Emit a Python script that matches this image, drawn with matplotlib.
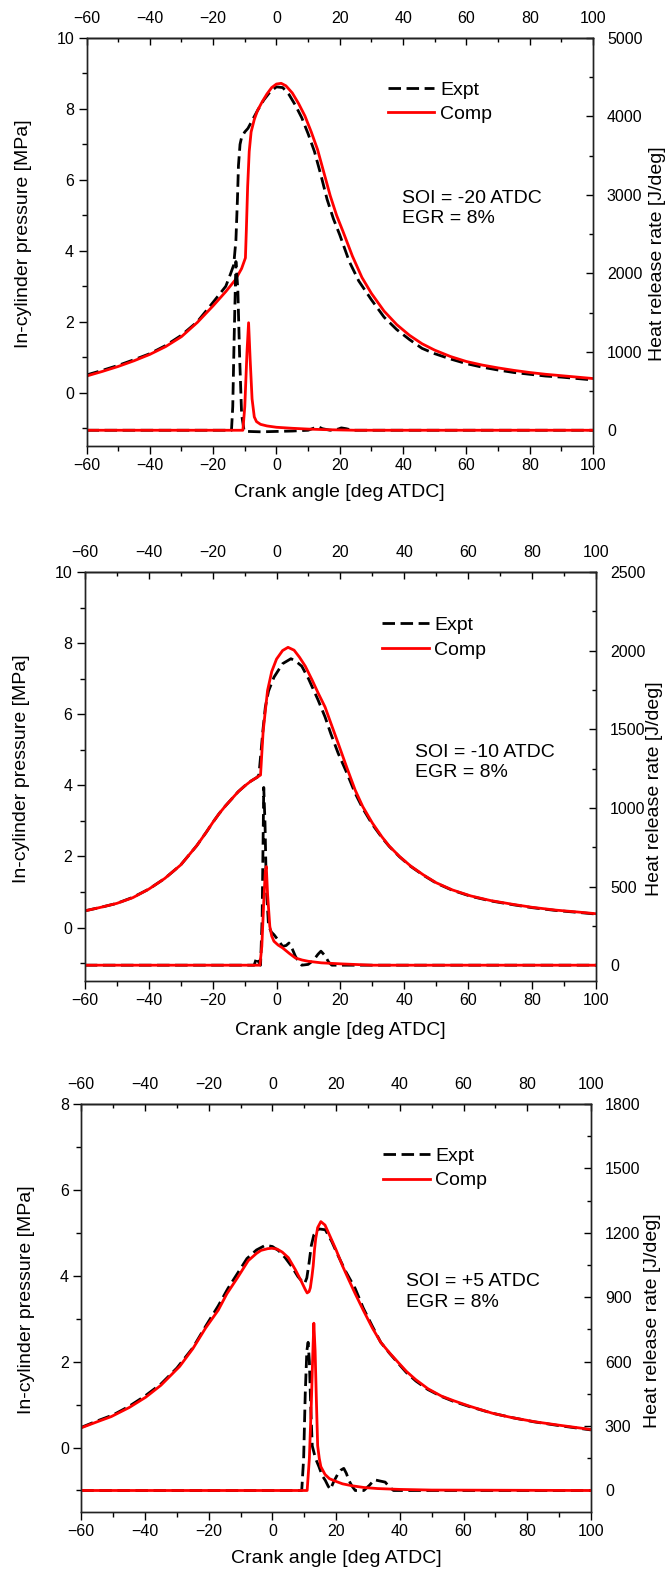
import matplotlib
matplotlib.use("Agg")
import matplotlib.pyplot as plt
from matplotlib.ticker import MultipleLocator

plt.rcParams['font.family'] = ['Liberation Sans', 'DejaVu Sans']

# ---------------- SOI = -20 ATDC ----------------
p1_comp_ang = [-60, -55, -50, -45, -40, -35, -30, -25, -20, -16, -13, -11, -9.8, -9.5, -9.1, -8.6,
               -8.0, -7.0, -6.0, -4.5, -3, -1.5, 0, 1.5, 3, 5, 7, 9, 11, 13, 15, 17, 19, 21, 24, 27,
               30, 34, 38, 42, 46, 50, 55, 60, 65, 70, 75, 80, 85, 90, 95, 100]
p1_comp_p = [0.47, 0.60, 0.74, 0.90, 1.08, 1.30, 1.58, 1.98, 2.45, 2.85, 3.18, 3.50, 3.80, 4.6, 5.8, 6.8,
             7.35, 7.7, 7.95, 8.2, 8.42, 8.6, 8.7, 8.72, 8.65, 8.45, 8.15, 7.8, 7.35, 6.85, 6.2, 5.55,
             5.0, 4.55, 3.85, 3.25, 2.8, 2.3, 1.92, 1.62, 1.38, 1.2, 1.02, 0.88, 0.78, 0.70, 0.63,
             0.57, 0.52, 0.48, 0.44, 0.40]
p1_expt_ang = [-60, -55, -50, -45, -40, -35, -30, -25, -20, -16, -14.5, -13.5, -12.8, -12.3, -12, -11.5,
               -11, -10, -9, -7.5, -6, -4, -2, 0, 2, 4, 6, 8, 10, 12, 14, 16, 18, 20, 23, 26, 30, 34,
               38, 42, 46, 50, 55, 60, 65, 70, 75, 80, 85, 90, 95, 100]
p1_expt_p = [0.5, 0.63, 0.77, 0.93, 1.1, 1.33, 1.62, 2.0, 2.55, 3.0, 3.35, 3.6, 4.3, 5.5, 6.4, 7.0,
             7.2, 7.35, 7.45, 7.7, 7.95, 8.25, 8.48, 8.62, 8.6, 8.4, 8.1, 7.75, 7.3, 6.8, 6.15, 5.45,
             4.9, 4.45, 3.7, 3.15, 2.62, 2.13, 1.78, 1.5, 1.25, 1.1, 0.95, 0.82, 0.72, 0.64, 0.57,
             0.52, 0.47, 0.44, 0.40, 0.36]
p1_expt_hrr_ang = [-60, -14.2, -13.8, -13.4, -12.8, -12.2, -11.6, -11.0, -10.2, -9, -5, 0, 5, 10, 12,
                   13.2, 14.5, 17, 19.5, 20.5, 22, 24, 100]
p1_expt_hrr = [0, 0, 300, 1100, 2150, 1800, 900, 200, -10, -15, -20, -15, -10, 0, 30,
               45, 20, 0, 15, 30, 20, 0, 0]
p1_comp_hrr_ang = [-60, -10.6, -10.0, -9.3, -8.8, -8.3, -7.7, -7.0, -6.3, -5, -3, 0, 5, 10, 15, 25, 100]
p1_comp_hrr = [0, 0, 300, 1000, 1370, 900, 400, 170, 110, 75, 55, 38, 25, 15, 8, 0, 0]

# ---------------- SOI = -10 ATDC ----------------
p2_comp_ang = [-60, -55, -50, -45, -40, -35, -30, -25, -22, -20, -18, -16, -14, -12, -10, -8, -6, -5,
               -4.6, -4.2, -3.5, -2.8, -1.5, 0, 1.9, 3.6, 5.5, 7.2, 9, 11.2, 13, 15.2, 17, 19.3, 22,
               24.6, 27, 30, 33, 35.3, 38.5, 42, 46, 50, 55, 60.8, 67, 74.2, 80, 87.5, 94, 100]
p2_comp_p = [0.47, 0.57, 0.68, 0.84, 1.08, 1.38, 1.76, 2.3, 2.68, 2.95, 3.2, 3.42, 3.62, 3.82, 3.98,
             4.12, 4.23, 4.29, 4.9, 5.5, 6.1, 6.67, 7.2, 7.55, 7.79, 7.88, 7.8, 7.6, 7.35, 6.95, 6.6,
             6.2, 5.75, 5.18, 4.5, 3.87, 3.4, 2.94, 2.55, 2.29, 2.0, 1.73, 1.48, 1.26, 1.06, 0.89,
             0.76, 0.65, 0.57, 0.49, 0.44, 0.39]
p2_expt_ang = [-60, -55, -50, -45, -40, -35, -30, -25, -22, -20, -18, -16, -14, -12, -10, -8, -6, -5.5,
               -4.8, -4.2, -3.5, -2.5, -0.8, 1.9, 4.5, 5.9, 7.9, 10, 11.2, 13, 15.2, 17, 19.3, 22,
               24.6, 27, 30, 33, 35.3, 38.5, 42, 46, 50, 55, 60.8, 67, 74.2, 80, 87.5, 94, 100]
p2_expt_p = [0.47, 0.57, 0.68, 0.85, 1.08, 1.38, 1.76, 2.3, 2.68, 2.95, 3.2, 3.42, 3.62, 3.82, 3.98,
             4.12, 4.23, 4.3, 5.0, 5.6, 6.2, 6.65, 7.04, 7.42, 7.56, 7.5, 7.35, 7.0, 6.76, 6.4,
             5.92, 5.45, 4.9, 4.35, 3.78, 3.35, 2.9, 2.53, 2.28, 1.99, 1.72, 1.47, 1.25, 1.05,
             0.88, 0.75, 0.64, 0.56, 0.48, 0.43, 0.38]
p2_expt_hrr_ang = [-60, -7, -6.2, -5.6, -5.0, -4.5, -4.0, -3.6, -3.2, -2.5, -1.6, -0.8, 0.5, 1.9, 3.0,
                   3.9, 5.0, 5.9, 7.0, 7.9, 9.9, 11.5, 13.0, 13.9, 15.2, 16.3, 17.3, 20, 25, 28, 100]
p2_expt_hrr = [0, 0, 50, 20, 0, 300, 1130, 900, 500, 250, 210, 194, 160, 120, 125,
               141, 100, 57, 20, 0, 5, 30, 70, 89, 60, 20, 0, 0, 0, 0, 0]
p2_comp_hrr_ang = [-60, -5.2, -4.6, -4.0, -3.5, -3.2, -2.8, -2.1, -1.5, -0.8, 0.5, 1.9, 4, 5.9, 8, 9.9,
                   14, 20.6, 30, 100]
p2_comp_hrr = [0, 0, 120, 400, 600, 627, 450, 247, 185, 152, 128, 110, 75, 46, 33, 25, 15, 8, 0, 0]

# ---------------- SOI = +5 ATDC ----------------
p3_comp_ang = [-60, -55, -50.6, -45, -39.8, -35, -29.1, -25, -21, -17, -14.3, -11, -7.6, -5, -3.6, -1.5,
               -0.2, 1.5, 3.1, 5, 7.2, 9, 10.3, 10.9, 11.5, 11.9, 12.4, 12.8, 13.2, 13.6, 14.2, 15.2,
               16.5, 17.9, 20, 22, 24, 26, 28.5, 31.4, 34, 36.7, 39.5, 42.1, 45, 48.8, 53, 56.9, 62,
               69, 75, 82.4, 90, 95, 100]
p3_comp_p = [0.46, 0.6, 0.72, 0.93, 1.17, 1.45, 1.89, 2.3, 2.78, 3.2, 3.58, 3.95, 4.35, 4.52, 4.59, 4.63,
             4.64, 4.62, 4.55, 4.42, 4.14, 3.88, 3.68, 3.6, 3.63, 3.72, 3.98, 4.23, 4.6, 4.87, 5.12,
             5.26, 5.18, 4.95, 4.6, 4.23, 3.9, 3.58, 3.2, 2.78, 2.45, 2.21, 1.98, 1.77, 1.58, 1.37,
             1.2, 1.09, 0.96, 0.8, 0.7, 0.6, 0.52, 0.47, 0.42]
p3_expt_ang = [-60, -55, -50, -45, -40, -35, -30, -25, -21, -17, -14, -11, -8, -5, -2.2, 0, 2, 4, 6, 8,
               9.5, 10.1, 10.8, 11.5, 12.2, 13, 14.6, 16.6, 18.6, 20.6, 23, 26, 28.5, 31.4, 34, 36.7,
               39.5, 42, 45, 48.8, 53, 57, 62, 69, 75, 82, 90, 95, 100]
p3_expt_p = [0.47, 0.62, 0.76, 0.96, 1.2, 1.48, 1.85, 2.32, 2.82, 3.3, 3.7, 4.05, 4.4, 4.6, 4.71, 4.68,
             4.58, 4.42, 4.22, 3.98, 3.85, 3.82, 3.95, 4.3, 4.7, 4.95, 5.09, 5.07, 4.8, 4.47, 4.1,
             3.7, 3.25, 2.82, 2.45, 2.2, 1.96, 1.75, 1.55, 1.35, 1.19, 1.07, 0.95, 0.8, 0.7, 0.6,
             0.51, 0.46, 0.41]
p3_expt_hrr_ang = [-60, 9.2, 9.8, 10.3, 10.8, 11.2, 11.6, 12.0, 12.5, 13.5, 14.6, 15.6, 16.6, 17.5, 18.2,
                   19.2, 20.6, 21.5, 22.4, 23.2, 24, 25, 26, 28.7, 30.5, 32, 33.5, 35.4, 36.5, 38, 100]
p3_expt_hrr = [0, 0, 150, 450, 650, 690, 600, 400, 208, 150, 111, 70, 47, 20, 5,
               40, 79, 95, 103, 80, 47, 20, 0, 0, 25, 50, 45, 39, 20, 0, 0]
p3_comp_hrr_ang = [-60, 10.9, 11.6, 12.2, 12.7, 13.0, 13.4, 13.8, 14.2, 14.7, 15.2, 16.5, 17.9, 20, 22,
                   25, 28.7, 33, 40, 50, 100]
p3_comp_hrr = [0, 0, 150, 400, 650, 779, 650, 420, 208, 150, 111, 75, 55, 42, 31, 22, 14, 9, 5, 2, 0]

labels_soi = ["SOI = -20 ATDC\nEGR = 8%", "SOI = -10 ATDC\nEGR = 8%", "SOI = +5 ATDC\nEGR = 8%"]

panels = [
    dict(rect=[0.1293, 0.7165, 0.7571, 0.2594], plim=(-1.5, 10), hlim=(-200, 5000), hmaj=1000, hmin=500,
         pe=(p1_expt_ang, p1_expt_p), pc=(p1_comp_ang, p1_comp_p),
         he=(p1_expt_hrr_ang, p1_expt_hrr), hc=(p1_comp_hrr_ang, p1_comp_hrr),
         text=labels_soi[0], txy=(39.8, 5.2), leg=(35.1, 8.19),
         lx=-0.124, rx=1.127, xl=-0.115),
    dict(rect=[0.1268, 0.3764, 0.7641, 0.2600], plim=(-1.5, 10), hlim=(-100, 2500), hmaj=500, hmin=250,
         pe=(p2_expt_ang, p2_expt_p), pc=(p2_comp_ang, p2_comp_p),
         he=(p2_expt_hrr_ang, p2_expt_hrr), hc=(p2_comp_hrr_ang, p2_comp_hrr),
         text=labels_soi[1], txy=(43.3, 4.65), leg=(33.0, 8.15),
         lx=-0.123, rx=1.114, xl=-0.12),
    dict(rect=[0.1215, 0.0388, 0.7619, 0.2594], plim=(-1.5, 8), hlim=(-100, 1800), hmaj=300, hmin=150,
         pe=(p3_expt_ang, p3_expt_p), pc=(p3_comp_ang, p3_comp_p),
         he=(p3_expt_hrr_ang, p3_expt_hrr), hc=(p3_comp_hrr_ang, p3_comp_hrr),
         text=labels_soi[2], txy=(41.9, 3.62), leg=(34.7, 6.5),
         lx=-0.1075, rx=1.120, xl=-0.113),
]

RED = '#ff0000'
DASH = (0, (4.5, 2))
LW = 2.0
TICK_FS = 11.5
LABEL_FS = 14

fig = plt.figure(figsize=(6.69, 15.73), dpi=100)

for pn in panels:
    ax = fig.add_axes(pn['rect'])
    ax2 = ax.twinx()

    le, = ax.plot(*pn['pe'], color='black', lw=LW, linestyle=DASH, dash_capstyle='butt', label='Expt')
    lc, = ax.plot(*pn['pc'], color=RED, lw=LW, label='Comp')
    ax2.plot(*pn['he'], color='black', lw=LW, linestyle=DASH, dash_capstyle='butt')
    ax2.plot(*pn['hc'], color=RED, lw=LW)

    ax.set_xlim(-60, 100)
    ax.set_ylim(*pn['plim'])
    ax2.set_ylim(*pn['hlim'])

    ax.xaxis.set_major_locator(MultipleLocator(20))
    ax.xaxis.set_minor_locator(MultipleLocator(10))
    ax.yaxis.set_major_locator(MultipleLocator(2))
    ax.yaxis.set_minor_locator(MultipleLocator(1))
    ax2.yaxis.set_major_locator(MultipleLocator(pn['hmaj']))
    ax2.yaxis.set_minor_locator(MultipleLocator(pn['hmin']))

    ax.tick_params(axis='both', which='both', direction='out', labelsize=TICK_FS, width=1.0)
    ax.tick_params(axis='both', which='major', length=5.5)
    ax.tick_params(axis='both', which='minor', length=3.5)
    ax.tick_params(axis='x', pad=3.5)
    ax.tick_params(axis='y', pad=3.5)

    ax2.tick_params(axis='y', which='both', direction='in', labelsize=TICK_FS, width=1.0, pad=10)
    ax2.tick_params(axis='y', which='major', length=5)
    ax2.tick_params(axis='y', which='minor', length=3)

    top = ax.secondary_xaxis('top')
    top.xaxis.set_major_locator(MultipleLocator(20))
    top.xaxis.set_minor_locator(MultipleLocator(10))
    top.tick_params(axis='x', which='both', direction='in', labelsize=TICK_FS, width=1.0, pad=8.5)
    top.tick_params(axis='x', which='major', length=5)
    top.tick_params(axis='x', which='minor', length=3)

    for a in (ax, ax2):
        for s in a.spines.values():
            s.set_linewidth(1.0)
            s.set_color('#222222')
    top.spines['top'].set_linewidth(1.0)

    ax.set_ylabel('In-cylinder pressure [MPa]', fontsize=LABEL_FS)
    ax.yaxis.label.set_va('center')
    ax.yaxis.set_label_coords(pn['lx'], 0.52)
    ax2.set_ylabel('Heat release rate [J/deg]', fontsize=LABEL_FS)
    ax2.yaxis.label.set_va('center')
    ax2.yaxis.set_label_coords(pn['rx'], 0.47)
    ax.set_xlabel('Crank angle [deg ATDC]', fontsize=LABEL_FS)
    ax.xaxis.label.set_va('center')
    ax.xaxis.set_label_coords(0.5, pn['xl'])

    ax2.text(pn['txy'][0], pn['txy'][1], pn['text'], transform=ax.transData, fontsize=LABEL_FS,
             ha='left', va='center', linespacing=1.25)

    ax2.legend([le, lc], ['Expt', 'Comp'], loc='center left',
               bbox_to_anchor=pn['leg'], bbox_transform=ax.transData,
               frameon=False, fontsize=LABEL_FS, handlelength=2.4, handletextpad=0.3,
               labelspacing=0.36, borderpad=0, borderaxespad=0)

fig.savefig('out.png', dpi=100)
